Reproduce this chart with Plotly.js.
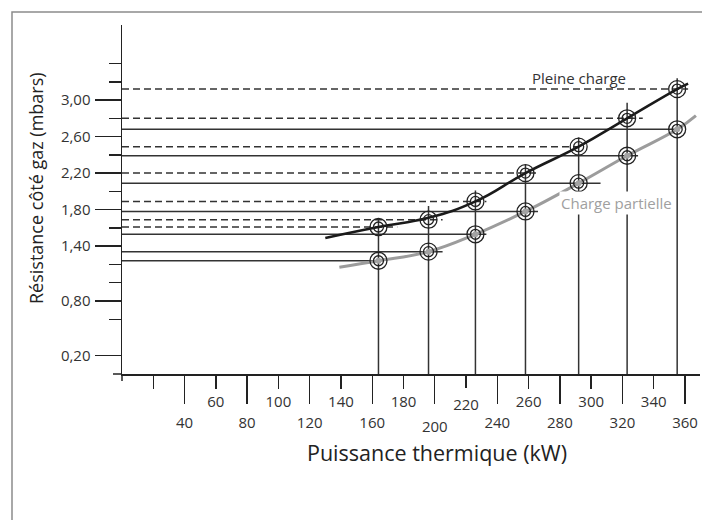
<!DOCTYPE html>
<html>
<head>
<meta charset="utf-8">
<script src="https://cdn.plot.ly/plotly-3.0.1.min.js"></script>
<style>
  html, body { margin: 0; padding: 0; background: #fff; }
  #chart { width: 702px; height: 520px; }
</style>
</head>
<body>
<div id="chart"></div>
<script>
// ---- Data ----
const power          = [164, 196, 226, 258, 292, 323, 355];          // kW
const fullLoad       = [1.61, 1.69, 1.89, 2.20, 2.49, 2.80, 3.12];   // mbar, pleine charge
const partLoad       = [1.24, 1.34, 1.53, 1.78, 2.09, 2.39, 2.68];   // mbar, charge partielle
const fullLeaderEnd  = [176, 205, 233, 267, 292, 333, 362];          // kW where dashed reading line stops
const partLeaderEnd  = [164, 205, 233, 266, 306, 330, 355];          // kW where solid reading line stops
const dropTop        = [1.69, 1.84, 2.01, 2.29, 2.59, 2.97, 3.24];   // mbar where vertical reading line stops

const fullCurveX = [130, 164, 196, 226, 258, 292, 323, 355, 362];
const fullCurveY = [1.49, 1.61, 1.71, 1.89, 2.20, 2.49, 2.80, 3.12, 3.18];
const partCurveX = [139, 164, 196, 226, 258, 292, 323, 355, 367];
const partCurveY = [1.17, 1.24, 1.34, 1.53, 1.78, 2.09, 2.39, 2.68, 2.83];

const xTickShort      = [20, 60, 100, 140, 180, 260, 300, 340];
const xTickShortText  = ['', '60', '100', '140', '180', '260', '300', '340'];
const xTickShortLow   = [220];
const xTickLong       = [40, 80, 120, 160, 240, 280, 320, 360];
const xTickLongText   = ['40', '80', '120', '160', '240', '280', '320', '360'];
const xTickLongLow    = [200];
const yTickMajor      = [0.2, 0.8, 1.4, 1.8, 2.2, 2.6, 3.0];
const yTickMajorText  = ['0,20', '0,80', '1,40', '1,80', '2,20', '2,60', '3,00'];
const yTickMinor      = [0.6, 1.0, 1.2, 1.6, 2.0, 2.4, 2.8, 3.2, 3.4];

const xTitle = 'Puissance thermique (kW)';
const yTitle = 'Résistance côté gaz (mbars)';
const labelFull = 'Pleine charge';
const labelPart = 'Charge partielle';

// ---- Layout geometry ----
const W = 702, H = 520;
const M = { l: 122, r: 2, t: 25, b: 146 };
const PW = W - M.l - M.r, PH = H - M.t - M.b;
const xRange = [0, 369.6];
const yRange = [0, 3.822];
const px2paperX = p => (p - M.l) / PW;
const py2paperY = p => (H - M.b - p) / PH;

const FONT = 'Open Sans, Noto Sans, sans-serif';
const INK = '#222';

function hSegs(xEnd, yv) {
  const x = [], y = [];
  for (let i = 0; i < yv.length; i++) { x.push(0, xEnd[i], null); y.push(yv[i], yv[i], null); }
  return { x, y };
}
function vSegs(xv, yTop) {
  const x = [], y = [];
  for (let i = 0; i < xv.length; i++) { x.push(xv[i], xv[i], null); y.push(0, yTop[i], null); }
  return { x, y };
}

const dashed = hSegs(fullLeaderEnd, fullLoad);
const solid = hSegs(partLeaderEnd, partLoad);
const drops = vSegs(power, dropTop);

const base = { type: 'scatter', showlegend: false, hoverinfo: 'skip' };

const traces = [
  Object.assign({}, base, { x: dashed.x, y: dashed.y, mode: 'lines',
    line: { color: '#333', width: 1.5, dash: '7px,4px' } }),
  Object.assign({}, base, { x: solid.x, y: solid.y, mode: 'lines',
    line: { color: '#333', width: 1.5 } }),
  Object.assign({}, base, { x: drops.x, y: drops.y, mode: 'lines',
    line: { color: '#333', width: 1.5 } }),
  Object.assign({}, base, { x: partCurveX, y: partCurveY, mode: 'lines',
    line: { color: '#9c9c9c', width: 3, shape: 'spline', smoothing: 1.2 } }),
  Object.assign({}, base, { x: fullCurveX, y: fullCurveY, mode: 'lines',
    line: { color: '#1a1a1a', width: 2.6, shape: 'spline', smoothing: 1.3 } }),
  // partial-load points: grey centre + double ring
  Object.assign({}, base, { x: power, y: partLoad, mode: 'markers',
    marker: { symbol: 'circle', size: 6, color: '#a3a3a3' } }),
  Object.assign({}, base, { x: power, y: partLoad, mode: 'markers',
    marker: { symbol: 'circle-open', size: 17, color: INK, line: { width: 1.3, color: INK } } }),
  Object.assign({}, base, { x: power, y: partLoad, mode: 'markers',
    marker: { symbol: 'circle-open', size: 10, color: INK, line: { width: 1.3, color: INK } } }),
  // full-load points: double ring
  Object.assign({}, base, { x: power, y: fullLoad, mode: 'markers',
    marker: { symbol: 'circle-open', size: 17, color: INK, line: { width: 1.3, color: INK } } }),
  Object.assign({}, base, { x: power, y: fullLoad, mode: 'markers',
    marker: { symbol: 'circle-open', size: 10, color: INK, line: { width: 1.3, color: INK } } }),
  // invisible anchors so the overlaid tick axes are drawn
  Object.assign({}, base, { x: [0], y: [0], xaxis: 'x2', yaxis: 'y', mode: 'markers', marker: { opacity: 0 } }),
  Object.assign({}, base, { x: [0], y: [0], xaxis: 'x3', yaxis: 'y', mode: 'markers', marker: { opacity: 0 } }),
  Object.assign({}, base, { x: [0], y: [0], xaxis: 'x4', yaxis: 'y', mode: 'markers', marker: { opacity: 0 } }),
  Object.assign({}, base, { x: [0], y: [0], xaxis: 'x', yaxis: 'y2', mode: 'markers', marker: { opacity: 0 } })
];

const tickFont = { family: FONT, size: 15, color: '#333' };
const xCommon = {
  range: xRange, showgrid: false, zeroline: false, fixedrange: true,
  ticks: 'outside', tickwidth: 1.4, tickcolor: INK, tickmode: 'array', tickfont: tickFont
};
const yCommon = {
  range: yRange, showgrid: false, zeroline: false, fixedrange: true,
  ticks: 'outside', tickwidth: 1.4, tickcolor: INK, tickmode: 'array', tickfont: tickFont
};

const layout = {
  width: W, height: H,
  margin: M,
  paper_bgcolor: '#fff', plot_bgcolor: '#fff',
  showlegend: false, hovermode: false,
  font: { family: FONT, color: '#333' },
  xaxis: Object.assign({}, xCommon, {
    showline: true, linecolor: INK, linewidth: 1.5,
    tickvals: xTickShort, ticktext: xTickShortText, ticklen: 13, ticklabelstandoff: 0
  }),
  xaxis2: Object.assign({}, xCommon, {
    overlaying: 'x', anchor: 'y', side: 'bottom', showline: false,
    tickvals: xTickLong, ticktext: xTickLongText, ticklen: 29, ticklabelstandoff: 6
  }),
  xaxis3: Object.assign({}, xCommon, {
    overlaying: 'x', anchor: 'y', side: 'bottom', showline: false,
    tickvals: xTickShortLow, ticktext: xTickShortLow.map(String), ticklen: 13, ticklabelstandoff: 4
  }),
  xaxis4: Object.assign({}, xCommon, {
    overlaying: 'x', anchor: 'y', side: 'bottom', showline: false,
    tickvals: xTickLongLow, ticktext: xTickLongLow.map(String), ticklen: 29, ticklabelstandoff: 10
  }),
  yaxis: Object.assign({}, yCommon, {
    showline: true, linecolor: INK, linewidth: 1.5,
    tickvals: yTickMajor, ticktext: yTickMajorText, ticklen: 26, ticklabelstandoff: 1
  }),
  yaxis2: Object.assign({}, yCommon, {
    overlaying: 'y', anchor: 'x', side: 'left', showline: false,
    tickvals: yTickMinor, ticktext: yTickMinor.map(() => ''), ticklen: 12, showticklabels: false
  }),
  shapes: [
    // frame (open at right/bottom edges of the picture)
    { type: 'rect', xref: 'paper', yref: 'paper',
      x0: px2paperX(12), x1: px2paperX(710), y0: py2paperY(530), y1: py2paperY(12),
      line: { color: '#8c8c8c', width: 1.5 }, fillcolor: 'rgba(0,0,0,0)', layer: 'below' },
    // x-axis line overshoot left of origin
    { type: 'line', xref: 'paper', yref: 'paper',
      x0: px2paperX(113), x1: 0, y0: 0, y1: 0, line: { color: INK, width: 1.5 } },
    // y-axis line overshoot below origin
    { type: 'line', xref: 'paper', yref: 'paper',
      x0: 0, x1: 0, y0: py2paperY(381), y1: 0, line: { color: INK, width: 1.5 } }
  ],
  annotations: [
    { text: labelFull, x: 292, y: 3.24, xref: 'x', yref: 'y', showarrow: false,
      xanchor: 'center', yanchor: 'middle', font: { family: FONT, size: 15, color: '#333' } },
    { text: labelPart, x: 316.5, y: 1.87, xref: 'x', yref: 'y', showarrow: false,
      xanchor: 'center', yanchor: 'middle', bgcolor: '#fff', borderpad: 1,
      font: { family: FONT, size: 15, color: '#a0a0a0' } },
    { text: xTitle, x: px2paperX(437), y: py2paperY(452), xref: 'paper', yref: 'paper',
      showarrow: false, xanchor: 'center', yanchor: 'middle',
      font: { family: FONT, size: 21.5, color: INK } },
    { text: yTitle, x: px2paperX(36), y: py2paperY(188), xref: 'paper', yref: 'paper',
      showarrow: false, xanchor: 'center', yanchor: 'middle', textangle: -90,
      font: { family: FONT, size: 18, color: INK } }
  ]
};

Plotly.newPlot('chart', traces, layout, { staticPlot: true, displayModeBar: false });
</script>
</body>
</html>
